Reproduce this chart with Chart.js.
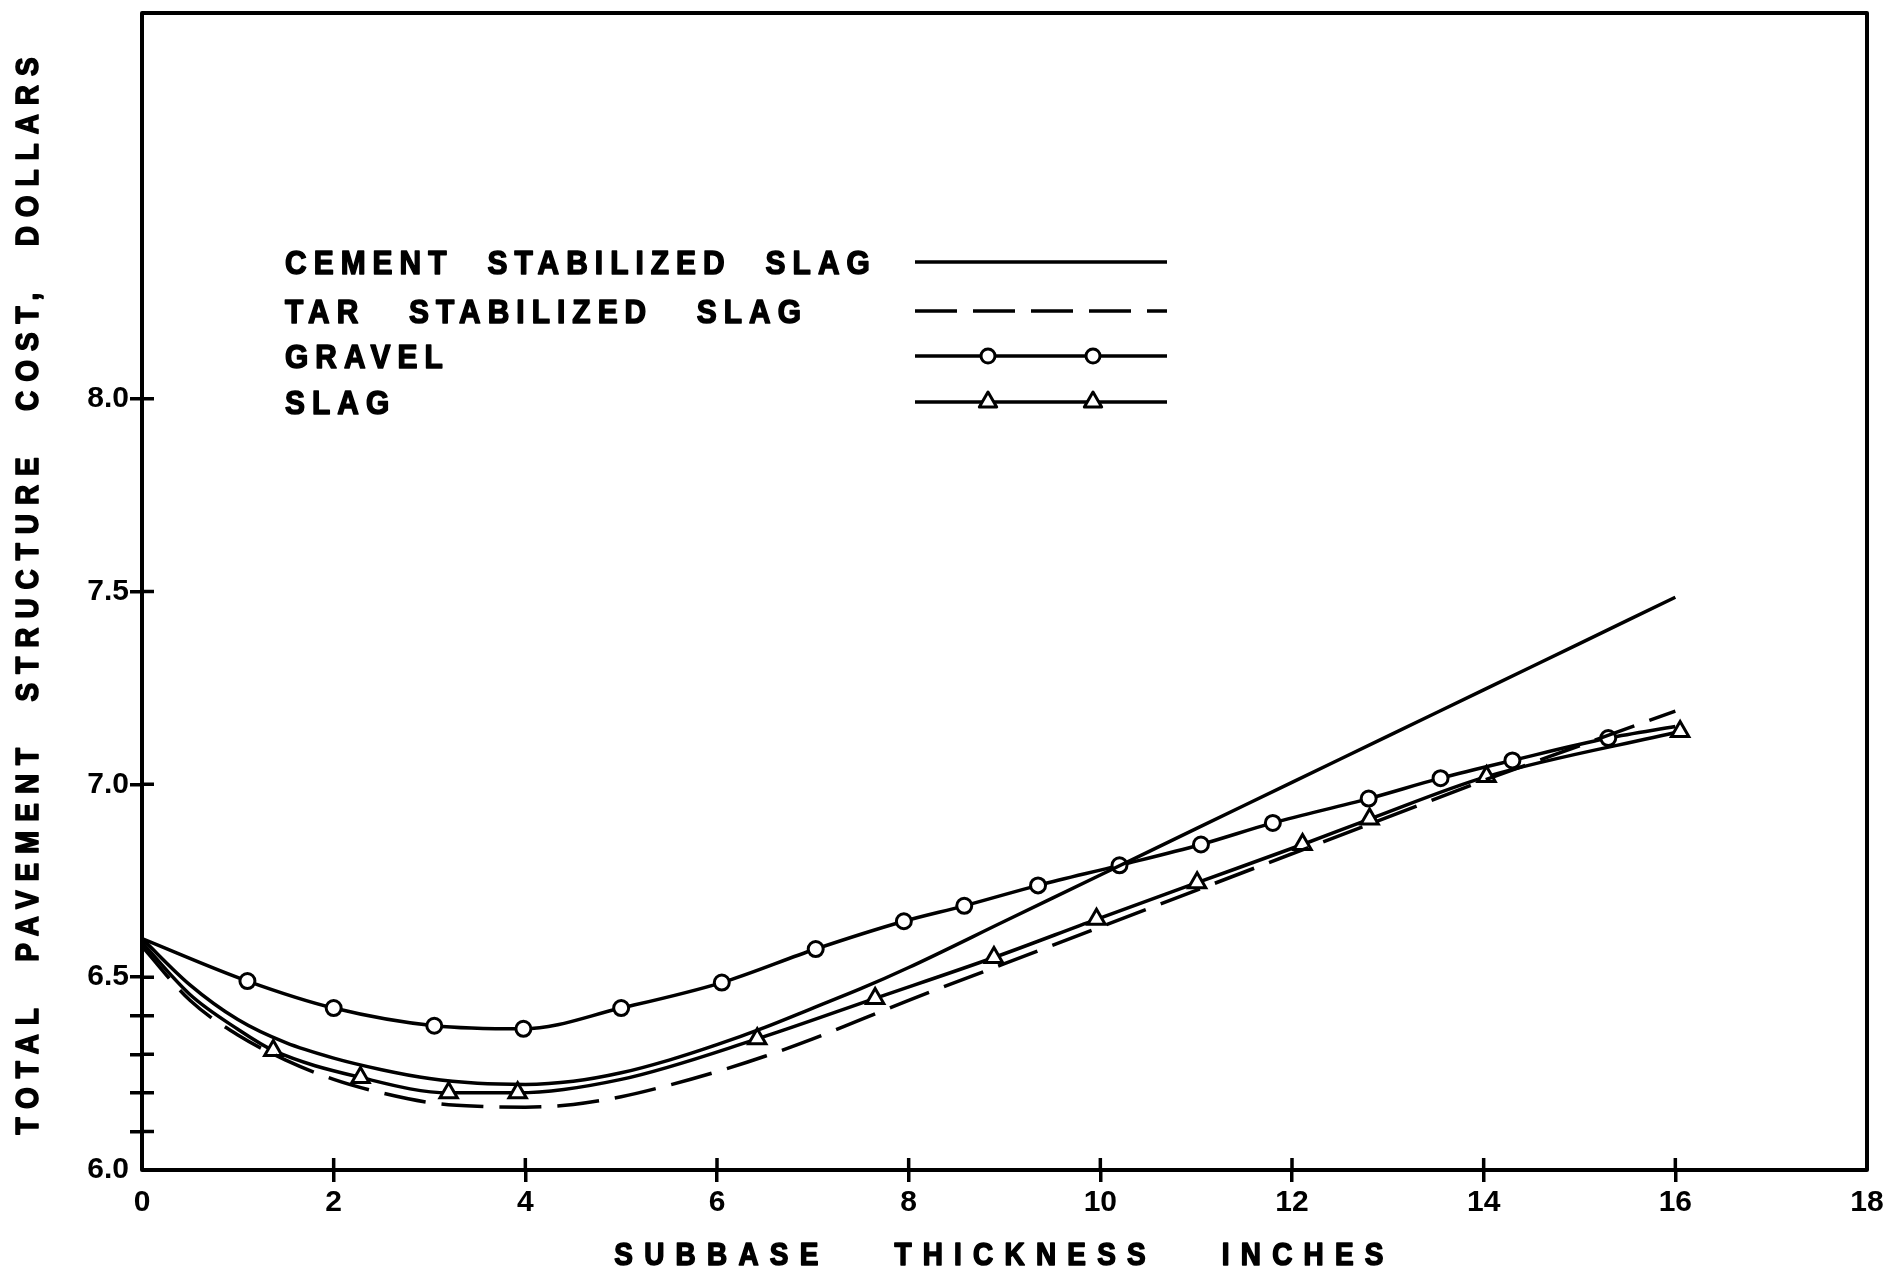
<!DOCTYPE html>
<html>
<head>
<meta charset="utf-8">
<script src="https://cdn.jsdelivr.net/npm/chart.js@4/dist/chart.umd.min.js"></script>
<style>
  html, body { margin: 0; padding: 0; background: #fff; }
  canvas { display: block; }
</style>
</head>
<body>
<canvas id="cost-chart" width="1900" height="1277"></canvas>
<script>
// values (x = subbase thickness, inches; y = dollars)
var cementX = [0, 0.5, 1, 1.5, 2, 2.5, 3, 3.5, 4, 4.5, 5, 5.5, 6, 6.5, 7, 7.5, 8, 9, 10, 11, 12, 13, 14, 15, 16];
var cementY = [6.60, 6.48, 6.39, 6.33, 6.29, 6.26, 6.237, 6.225, 6.222, 6.23, 6.252, 6.285, 6.325, 6.37, 6.42, 6.47, 6.525, 6.645, 6.765, 6.885, 7.005, 7.125, 7.245, 7.365, 7.485];

var tarX = [0, 0.5, 1, 1.5, 2, 2.5, 3, 3.5, 4, 4.5, 5, 5.5, 6, 6.5, 7, 7.5, 8, 9, 10, 11, 12, 13, 14, 15, 16];
var tarY = [6.58, 6.44, 6.35, 6.285, 6.235, 6.2, 6.175, 6.165, 6.163, 6.17, 6.19, 6.22, 6.255, 6.295, 6.34, 6.39, 6.44, 6.535, 6.63, 6.725, 6.82, 6.915, 7.01, 7.1, 7.19];

var gravelX = [0, 1.1, 2.0, 3.05, 3.98, 5.0, 6.05, 7.03, 7.95, 8.58, 9.35, 10.2, 11.05, 11.8, 12.8, 13.55, 14.3, 15.3, 16.0];
var gravelY = [6.60, 6.49, 6.42, 6.374, 6.366, 6.42, 6.486, 6.573, 6.645, 6.685, 6.738, 6.79, 6.844, 6.90, 6.963, 7.016, 7.062, 7.12, 7.15];
var gravelMarks = [0, 1, 1, 1, 1, 1, 1, 1, 1, 1, 1, 1, 1, 1, 1, 1, 1, 1, 0];

var slagX = [0, 0.5, 1, 1.37, 2.28, 3.2, 3.92, 5, 6.42, 7.65, 8.89, 9.96, 11.01, 12.11, 12.81, 14.03, 16.05];
var slagY = [6.59, 6.455, 6.365, 6.31, 6.24, 6.2, 6.2, 6.235, 6.34, 6.445, 6.551, 6.65, 6.745, 6.844, 6.91, 7.02, 7.137];
var slagMarks = [0, 0, 0, 1, 1, 1, 1, 0, 1, 1, 1, 1, 1, 1, 1, 1, 1];

var xTickValues = [0, 2, 4, 6, 8, 10, 12, 14, 16, 18];
var yTickValues = [6.0, 6.1, 6.2, 6.3, 6.4, 6.5, 7.0, 7.5, 8.0];
var yLabelValues = [6.0, 6.5, 7.0, 7.5, 8.0];

var seriesNames = ['CEMENT STABILIZED SLAG', 'TAR STABILIZED SLAG', 'GRAVEL', 'SLAG'];
var xTitle = 'SUBBASE THICKNESS INCHES';
var yTitle = 'TOTAL PAVEMENT STRUCTURE COST, DOLLARS';

var INK = '#000';
var FONT = '"Liberation Sans", Arial, sans-serif';
var TAR_DASH = [42, 16];

function pairs(xs, ys) {
    var out = [];
    for (var i = 0; i < xs.length; i++) {
        out.push({x: xs[i], y: ys[i]});
    }
    return out;
}

// lettering on the original is narrow, heavy and widely spaced
function letter(ctx, text, x, y, o) {
    ctx.save();
    ctx.translate(x, y);
    if (o.rotate) ctx.rotate(o.rotate);
    ctx.scale(o.sx, 1);
    ctx.font = 'bold ' + o.size + 'px ' + FONT;
    ctx.letterSpacing = o.ls + 'px';
    ctx.wordSpacing = o.ws + 'px';
    ctx.textAlign = o.align;
    ctx.textBaseline = 'alphabetic';
    ctx.lineWidth = 1.6;
    ctx.lineJoin = 'round';
    ctx.fillText(text, 0, o.size * 0.36);
    ctx.strokeText(text, 0, o.size * 0.36);
    ctx.restore();
}

// frame, the inside half of the crossing ticks, axis titles and the hand-drawn legend
var decor = {
    id: 'decor',
    afterDraw: function(chart) {
        var ctx = chart.ctx;
        var a = chart.chartArea;
        var xs = chart.scales.x, ys = chart.scales.y;
        ctx.save();
        ctx.strokeStyle = INK;
        ctx.fillStyle = INK;
        ctx.lineWidth = 4;
        ctx.lineJoin = 'round';
        ctx.strokeRect(a.left, a.top, a.right - a.left, a.bottom - a.top);

        ctx.lineWidth = 3.5;
        ctx.beginPath();
        xTickValues.forEach(function(v) {
            if (v === 0 || v === 18) return;
            var px = xs.getPixelForValue(v);
            ctx.moveTo(px, a.bottom);
            ctx.lineTo(px, a.bottom - 12);
        });
        yTickValues.forEach(function(v) {
            if (v === 6.0) return;
            var py = ys.getPixelForValue(v);
            ctx.moveTo(a.left, py);
            ctx.lineTo(a.left + 12, py);
        });
        ctx.stroke();

        // axis titles
        letter(ctx, xTitle, (a.left + a.right) / 2, 1254, {size: 31, sx: 0.9, ls: 12.5, ws: 51, align: 'center'});
        letter(ctx, yTitle, 27, (a.top + a.bottom) / 2, {size: 31, sx: 0.9, ls: 10, ws: 23, align: 'center', rotate: -Math.PI / 2});

        // legend
        var rows = [262, 311, 356, 402];
        var rowWords = [21, 32, 21, 21];
        rows.forEach(function(y, i) {
            letter(ctx, seriesNames[i], 285, y, {size: 34, sx: 0.88, ls: 8, ws: rowWords[i], align: 'left'});
        });

        ctx.lineWidth = 3.5;
        rows.forEach(function(y, i) {
            ctx.setLineDash(i === 1 ? TAR_DASH : []);
            ctx.beginPath();
            ctx.moveTo(915, y);
            ctx.lineTo(1167, y);
            ctx.stroke();
        });
        ctx.setLineDash([]);
        ctx.fillStyle = '#fff';
        ctx.lineWidth = 3;
        [988, 1093].forEach(function(x) {
            Chart.helpers.drawPoint(ctx, {pointStyle: 'circle', radius: 7, borderWidth: 3}, x, rows[2]);
            Chart.helpers.drawPoint(ctx, {pointStyle: 'triangle', radius: 10, borderWidth: 3}, x, rows[3]);
        });
        ctx.restore();
    }
};

var lineBase = {
    borderColor: INK,
    borderWidth: 3.5,
    pointBackgroundColor: '#fff',
    pointBorderColor: INK,
    pointBorderWidth: 3,
    cubicInterpolationMode: 'monotone',
    fill: false
};

var datasets = [
    Object.assign({}, lineBase, {label: seriesNames[0], data: pairs(cementX, cementY), pointRadius: 0}),
    Object.assign({}, lineBase, {label: seriesNames[1], data: pairs(tarX, tarY), pointRadius: 0, borderDash: TAR_DASH}),
    Object.assign({}, lineBase, {label: seriesNames[2], data: pairs(gravelX, gravelY), pointStyle: 'circle',
        pointRadius: gravelMarks.map(function(m) { return m ? 7.5 : 0; })}),
    Object.assign({}, lineBase, {label: seriesNames[3], data: pairs(slagX, slagY), pointStyle: 'triangle',
        pointRadius: slagMarks.map(function(m) { return m ? 10 : 0; })})
];

var hideEnds = function(ends) {
    return function(c) {
        return (c.tick && ends.indexOf(c.tick.value) >= 0) ? 'rgba(0,0,0,0)' : INK;
    };
};

var costChart = new Chart(document.getElementById('cost-chart'), {
    type: 'line',
    data: {datasets: datasets},
    plugins: [decor],
    options: {
        responsive: false,
        animation: false,
        layout: {padding: {top: 6, right: 33, left: 0, bottom: 0}},
        plugins: {legend: {display: false}, tooltip: {enabled: false}},
        scales: {
            x: {
                type: 'linear',
                min: 0,
                max: 18,
                afterBuildTicks: function(scale) {
                    scale.ticks = xTickValues.map(function(v) { return {value: v}; });
                },
                afterFit: function(scale) {
                    scale.height = 107;
                    scale.paddingLeft = 0;
                    scale.paddingRight = 0;
                },
                border: {display: false},
                grid: {drawOnChartArea: false, drawTicks: true, tickLength: 12, lineWidth: 3.5, color: hideEnds([0, 18])},
                ticks: {color: INK, padding: 3, maxRotation: 0, font: {family: FONT, size: 30, weight: 'bold'}}
            },
            y: {
                type: 'linear',
                min: 6,
                max: 9,
                afterBuildTicks: function(scale) {
                    scale.ticks = yTickValues.map(function(v) { return {value: v}; });
                },
                afterFit: function(scale) {
                    scale.width = 142;
                    scale.paddingTop = 0;
                    scale.paddingBottom = 0;
                },
                border: {display: false},
                grid: {drawOnChartArea: false, drawTicks: true, tickLength: 12, lineWidth: 3.5, color: hideEnds([6])},
                ticks: {
                    color: INK,
                    padding: 1,
                    font: {family: FONT, size: 30, weight: 'bold'},
                    callback: function(v) {
                        return yLabelValues.indexOf(v) >= 0 ? v.toFixed(1) : '';
                    }
                }
            }
        }
    }
});
</script>
</body>
</html>
